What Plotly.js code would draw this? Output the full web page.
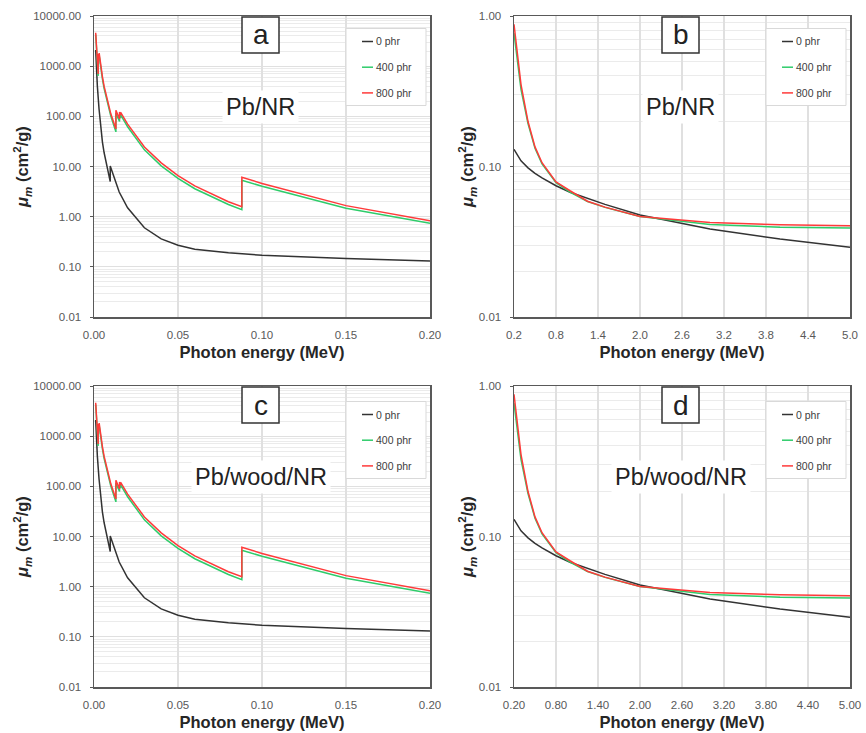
<!DOCTYPE html>
<html>
<head>
<meta charset="utf-8">
<script src="https://cdn.plot.ly/plotly-3.0.1.min.js"></script>
<style>html,body{margin:0;padding:0;background:#fff;}#chart{width:866px;height:733px;}</style>
</head>
<body>
<div id="chart"></div>
<script>
// ---------- DATA ----------
const seriesNames = ['0 phr', '400 phr', '800 phr'];
const seriesColors = ['#333333', '#2ecc6a', '#ff3a3a'];

// Low-energy range (MeV), panels a and c
const lowE_0phr = [0.001, 0.0015, 0.002, 0.003, 0.004, 0.005, 0.006, 0.008, 0.009659, 0.009659, 0.010, 0.015, 0.020, 0.030, 0.040, 0.050, 0.060, 0.080, 0.100, 0.150, 0.200];
const lowMu_0phr = [2100, 800, 400, 140, 60, 31, 19, 9.0, 5.0, 10.2, 9.4, 3.1, 1.5, 0.60, 0.36, 0.27, 0.225, 0.19, 0.17, 0.146, 0.131];

const lowE_Pb = [0.001, 0.0015, 0.002, 0.002484, 0.002484, 0.002586, 0.002586, 0.003, 0.003066, 0.003066, 0.003554, 0.003554, 0.003851, 0.003851, 0.004, 0.005, 0.006, 0.008, 0.010, 0.013035, 0.013035, 0.015, 0.015200, 0.015200, 0.015861, 0.015861, 0.020, 0.030, 0.040, 0.050, 0.060, 0.080, 0.088005, 0.088005, 0.100, 0.150, 0.200];
const lowMu_400phr = [4250, 1880, 1000, 640, 1070, 1000, 1580, 1490, 1410, 1650, 1175, 1310, 1065, 1165, 995, 560, 360, 180, 101, 49, 116, 82, 79, 108, 94, 107, 62, 21.5, 10.3, 5.8, 3.6, 1.75, 1.38, 5.3, 4.05, 1.47, 0.74];
const lowMu_800phr = [4650, 2050, 1100, 700, 1180, 1100, 1750, 1650, 1560, 1830, 1300, 1450, 1180, 1290, 1100, 620, 400, 200, 112, 56, 132, 92, 89, 122, 106, 120, 70, 24.5, 11.8, 6.6, 4.1, 1.98, 1.58, 6.1, 4.6, 1.66, 0.83];

// High-energy range (MeV), panels b and d
const highE = [0.2, 0.3, 0.4, 0.5, 0.6, 0.8, 1.0, 1.25, 1.5, 2.0, 3.0, 4.0, 5.0];
const highMu_0phr = [0.130, 0.109, 0.098, 0.090, 0.084, 0.0745, 0.0675, 0.0612, 0.0560, 0.0476, 0.0384, 0.0330, 0.0291];
const highMu_400phr = [0.77, 0.325, 0.193, 0.132, 0.104, 0.078, 0.0675, 0.0585, 0.0535, 0.0465, 0.0412, 0.0395, 0.039];
const highMu_800phr = [0.88, 0.35, 0.199, 0.135, 0.106, 0.079, 0.069, 0.0588, 0.0537, 0.0465, 0.0424, 0.041, 0.0404];

// Tick labels
const lowXTicks = [0, 0.05, 0.10, 0.15, 0.20];
const lowXLabels = ['0.00', '0.05', '0.10', '0.15', '0.20'];
const highXTicks = [0.2, 0.8, 1.4, 2.0, 2.6, 3.2, 3.8, 4.4, 5.0];
const highXLabelsB = ['0.2', '0.8', '1.4', '2.0', '2.6', '3.2', '3.8', '4.4', '5.0'];
const highXLabelsD = ['0.20', '0.80', '1.40', '2.00', '2.60', '3.20', '3.80', '4.40', '5.00'];
const lowYTicks = [0.01, 0.1, 1, 10, 100, 1000, 10000];
const lowYLabels = ['0.01', '0.10', '1.00', '10.00', '100.00', '1000.00', '10000.00'];
const highYTicks = [0.01, 0.1, 1];
const highYLabels = ['0.01', '0.10', '1.00'];

const panelLetters = ['a', 'b', 'c', 'd'];
const panelTexts = ['Pb/NR', 'Pb/NR', 'Pb/wood/NR', 'Pb/wood/NR'];
const xTitle = 'Photon energy (MeV)';
const yTitle = '<i>μ<sub>m</sub></i> (cm<sup>2</sup>/g)';

// ---------- LAYOUT HELPERS ----------
const W = 866, H = 733;
const FONT = '"Liberation Sans", Arial, sans-serif';
const px = x => x / W;
const py = y => 1 - y / H;

// plot areas in pixels [left, top, right, bottom]
const boxes = [
  [94, 16, 430, 317],
  [514, 16, 850, 317],
  [94, 386, 430, 687],
  [514, 386, 850, 687]
];

function minorLogVals(lo, hi) {
  const v = [];
  for (let d = lo; d < hi; d++) {
    for (let k = 2; k <= 9; k++) v.push(k * Math.pow(10, d));
  }
  return v;
}

const panels = [
  {lowRange: true, xLabels: lowXLabels, data: [[lowE_0phr, lowMu_0phr], [lowE_Pb, lowMu_400phr], [lowE_Pb, lowMu_800phr]]},
  {lowRange: false, xLabels: highXLabelsB, data: [[highE, highMu_0phr], [highE, highMu_400phr], [highE, highMu_800phr]]},
  {lowRange: true, xLabels: lowXLabels, data: [[lowE_0phr, lowMu_0phr], [lowE_Pb, lowMu_400phr], [lowE_Pb, lowMu_800phr]]},
  {lowRange: false, xLabels: highXLabelsD, data: [[highE, highMu_0phr], [highE, highMu_400phr], [highE, highMu_800phr]]}
];

const traces = [];
const layout = {
  width: W, height: H,
  margin: {l: 0, r: 0, t: 0, b: 0},
  paper_bgcolor: '#ffffff',
  plot_bgcolor: '#ffffff',
  showlegend: false,
  font: {family: FONT, color: '#595959'},
  shapes: [],
  annotations: []
};

const tickFont = {family: FONT, size: 11.5, color: '#595959'};
const titleFont = {family: FONT, size: 16.5, color: '#262626', weight: 'bold'};

panels.forEach((p, i) => {
  const n = i === 0 ? '' : String(i + 1);
  const xa = 'x' + n, ya = 'y' + n;
  const [L, T, R, B] = boxes[i];
  [0, 1, 2].forEach(s => {
    traces.push({
      x: p.data[s][0], y: p.data[s][1],
      xaxis: xa, yaxis: ya,
      type: 'scatter', mode: 'lines',
      name: seriesNames[s],
      line: {color: seriesColors[s], width: 1.5},
      hoverinfo: 'skip'
    });
  });

  layout['xaxis' + n] = {
    domain: [px(L), px(R)],
    anchor: ya,
    range: p.lowRange ? [0, 0.2] : [0.2, 5.0],
    tickmode: 'array',
    tickvals: p.lowRange ? lowXTicks : highXTicks,
    ticktext: p.xLabels,
    tickfont: tickFont,
    ticks: '',
    ticklabelstandoff: 7,
    showgrid: true, gridcolor: '#e0e0e0', gridwidth: 1.3,
    showline: true, linecolor: '#595959', linewidth: 1.5, mirror: true,
    zeroline: false,
    title: {text: xTitle, font: titleFont, standoff: 6}
  };
  const yLo = -2, yHi = p.lowRange ? 4 : 0;
  layout['yaxis' + n] = {
    domain: [py(B), py(T)],
    anchor: xa,
    type: 'log',
    range: [yLo, yHi],
    tickmode: 'array',
    tickvals: p.lowRange ? lowYTicks : highYTicks,
    ticktext: p.lowRange ? lowYLabels : highYLabels,
    tickfont: tickFont,
    ticks: 'outside', ticklen: 3, tickcolor: '#595959', tickwidth: 1,
    ticklabelstandoff: 6,
    showgrid: true, gridcolor: '#e0e0e0', gridwidth: 1.3,
    minor: {tickmode: 'array', tickvals: minorLogVals(yLo, yHi), showgrid: true, gridcolor: '#ebebeb', gridwidth: 1, ticks: ''},
    showline: true, linecolor: '#595959', linewidth: 1.5, mirror: true,
    zeroline: false,
    title: {text: yTitle, font: titleFont, standoff: 0}
  };

  // panel letter box
  const cx = (L + R) / 2 - 1.5;
  layout.shapes.push({
    type: 'rect', xref: 'paper', yref: 'paper', layer: 'above',
    x0: px(cx - 18.5), x1: px(cx + 18.5), y0: py(T + 37), y1: py(T + 1),
    fillcolor: '#ffffff', line: {color: '#333333', width: 1.5}
  });
  layout.annotations.push({
    xref: 'paper', yref: 'paper', x: px(cx), y: py(T + 19),
    xanchor: 'center', yanchor: 'middle', showarrow: false,
    text: panelLetters[i], font: {family: FONT, size: 28, color: '#222222'}
  });
  // material label
  layout.annotations.push({
    xref: 'paper', yref: 'paper', x: px(cx), y: py(T + 91),
    xanchor: 'center', yanchor: 'middle', showarrow: false,
    text: panelTexts[i], font: {family: FONT, size: 23.5, color: '#222222'},
    bgcolor: '#ffffff', borderpad: 3
  });
  // legend
  const lgTop = T + (i < 2 ? 12.5 : 15.5);
  const lgL = R - 84, lgR = R - 4;
  layout.shapes.push({
    type: 'rect', xref: 'paper', yref: 'paper', layer: 'above',
    x0: px(lgL), x1: px(lgR), y0: py(lgTop + 77), y1: py(lgTop),
    fillcolor: '#ffffff', line: {color: '#d9d9d9', width: 1}
  });
  seriesNames.forEach((nm, s) => {
    const yy = lgTop + 13 + s * 25.7;
    layout.shapes.push({
      type: 'line', xref: 'paper', yref: 'paper', layer: 'above',
      x0: px(lgL + 16), x1: px(lgL + 27), y0: py(yy), y1: py(yy),
      line: {color: seriesColors[s], width: 1.5}
    });
    layout.annotations.push({
      xref: 'paper', yref: 'paper', x: px(lgL + 27.5), y: py(yy),
      xanchor: 'left', yanchor: 'middle', showarrow: false,
      text: nm, font: {family: FONT, size: 10.5, color: '#404040'}
    });
  });
});

Plotly.newPlot('chart', traces, layout, {displayModeBar: false, staticPlot: true});
</script>
</body>
</html>
